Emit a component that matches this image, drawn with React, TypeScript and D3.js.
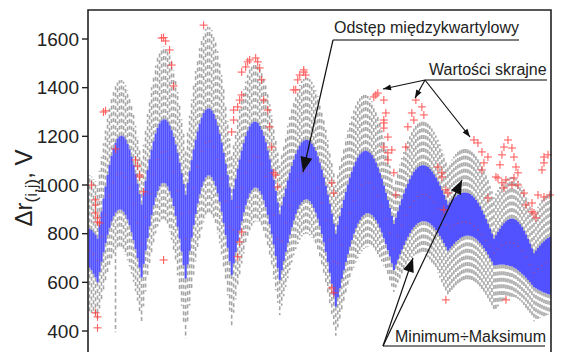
import React from "react";
import * as d3 from "d3";

const yTicks = [400, 600, 800, 1000, 1200, 1400, 1600];

const maxV = [
  1040, 1035, 1025, 1015,
  1000, 1059, 1116, 1172, 1224, 1272, 1314, 1352, 1382, 1406, 1421, 1430, 1431, 1424, 1410, 1388, 1360, 1326, 1288, 1244, 1198, 1149, 1100,
  1165, 1230, 1292, 1350, 1402, 1450, 1490, 1523, 1547, 1564, 1570, 1568, 1557, 1537, 1508, 1472, 1430, 1382, 1328, 1270, 1211, 1150,
  1219, 1286, 1351, 1413, 1469, 1518, 1562, 1597, 1623, 1641, 1650, 1648, 1637, 1617, 1588, 1550, 1504, 1452, 1393, 1329, 1262, 1191, 1120,
  1170, 1221, 1268, 1313, 1356, 1393, 1425, 1453, 1475, 1489, 1498, 1500, 1494, 1483, 1465, 1439, 1409, 1373, 1332, 1287, 1238, 1187, 1134, 1080,
  1122, 1163, 1203, 1243, 1279, 1312, 1343, 1370, 1393, 1411, 1427, 1436, 1441, 1440, 1435, 1424, 1409, 1389, 1365, 1336, 1303, 1266, 1227, 1185, 1141, 1095, 1048, 1000,
  1040, 1080, 1118, 1155, 1191, 1224, 1255, 1282, 1306, 1327, 1344, 1357, 1366, 1370, 1370, 1366, 1357, 1344, 1327, 1306, 1282, 1255, 1224, 1191, 1155, 1118, 1080, 1040, 1000,
  1029, 1057, 1084, 1111, 1136, 1159, 1181, 1200, 1218, 1232, 1244, 1252, 1258, 1261, 1260, 1258, 1252, 1244, 1232, 1219, 1203, 1186, 1167, 1146, 1125, 1103, 1080,
  1092, 1105, 1117, 1127, 1137, 1145, 1150, 1155, 1156, 1156, 1153, 1147, 1139, 1128, 1115, 1100, 1083, 1063, 1043, 1021, 997, 974, 950,
  965, 979, 992, 1004, 1014, 1022, 1028, 1031, 1033, 1030, 1026, 1017, 1007, 994, 979, 962, 943, 923, 902, 880,
  896, 911, 925, 939, 951, 961, 969, 975,
];

const q3V = [
  820, 815, 805, 795,
  780, 836, 892, 944, 994, 1041, 1083, 1119, 1150, 1173, 1191, 1200, 1203, 1199, 1188, 1169, 1147, 1117, 1083, 1046, 1006, 963, 920,
  969, 1017, 1062, 1106, 1145, 1180, 1211, 1235, 1253, 1265, 1270, 1269, 1261, 1245, 1225, 1198, 1167, 1132, 1092, 1049, 1005, 960,
  1009, 1057, 1102, 1147, 1186, 1221, 1252, 1277, 1296, 1308, 1314, 1314, 1306, 1292, 1271, 1244, 1211, 1174, 1133, 1088, 1041, 991, 940,
  984, 1026, 1067, 1105, 1141, 1172, 1201, 1223, 1241, 1253, 1260, 1260, 1255, 1243, 1226, 1203, 1176, 1142, 1106, 1065, 1022, 976, 929, 880,
  916, 951, 985, 1019, 1050, 1078, 1104, 1127, 1146, 1162, 1175, 1182, 1186, 1185, 1180, 1170, 1157, 1140, 1118, 1093, 1064, 1032, 998, 961, 923, 883, 842, 800,
  836, 872, 906, 940, 972, 1002, 1030, 1055, 1077, 1097, 1113, 1126, 1134, 1139, 1141, 1138, 1132, 1123, 1109, 1093, 1073, 1050, 1026, 998, 968, 938, 906, 874, 840,
  866, 892, 917, 942, 965, 987, 1006, 1024, 1040, 1054, 1064, 1073, 1078, 1081, 1081, 1078, 1074, 1066, 1056, 1044, 1031, 1015, 998, 979, 960, 940, 920,
  929, 938, 946, 953, 959, 963, 967, 969, 969, 967, 963, 957, 949, 939, 927, 913, 896, 879, 861, 842, 822, 801, 780,
  794, 808, 821, 833, 843, 851, 857, 861, 862, 860, 856, 849, 839, 827, 813, 797, 779, 760, 740, 720,
  731, 742, 752, 761, 769, 777, 782, 787,
];

const medV = [
  730, 725, 715, 705,
  690, 739, 788, 835, 879, 919, 955, 985, 1011, 1031, 1044, 1050, 1050, 1043, 1031, 1011, 987, 957, 923, 885, 846, 803, 760,
  814, 866, 917, 964, 1007, 1045, 1077, 1104, 1123, 1135, 1140, 1137, 1127, 1110, 1085, 1055, 1017, 976, 931, 882, 832, 780,
  835, 888, 940, 989, 1034, 1073, 1108, 1137, 1158, 1172, 1179, 1179, 1170, 1156, 1134, 1104, 1069, 1028, 983, 932, 880, 826, 770,
  816, 863, 907, 948, 987, 1022, 1051, 1077, 1097, 1110, 1119, 1120, 1115, 1104, 1087, 1063, 1035, 1002, 963, 922, 877, 829, 780, 730,
  769, 808, 844, 880, 914, 945, 973, 997, 1019, 1036, 1049, 1057, 1061, 1060, 1055, 1045, 1029, 1010, 987, 959, 928, 893, 856, 816, 774, 731, 685, 640,
  678, 716, 752, 788, 822, 855, 884, 912, 936, 958, 976, 990, 1001, 1008, 1012, 1011, 1008, 1000, 989, 974, 956, 936, 913, 888, 860, 832, 802, 772, 740,
  764, 788, 811, 833, 854, 874, 892, 908, 923, 935, 945, 953, 958, 961, 961, 959, 955, 949, 940, 930, 918, 904, 889, 873, 856, 838, 820,
  826, 830, 835, 839, 842, 845, 847, 847, 847, 846, 842, 838, 832, 825, 817, 807, 797, 786, 773, 761, 748, 734, 720,
  728, 737, 744, 751, 757, 761, 763, 764, 763, 760, 755, 748, 739, 729, 717, 703, 688, 673, 656, 640,
  648, 655, 663, 669, 675, 680, 685, 688,
];

const q1V = [
  660, 650, 635, 620,
  600, 642, 684, 723, 761, 795, 824, 850, 871, 886, 896, 900, 898, 890, 877, 858, 834, 805, 773, 737, 700, 660, 620,
  676, 731, 782, 831, 876, 916, 948, 975, 995, 1007, 1009, 1006, 994, 974, 947, 913, 873, 828, 779, 726, 671, 615,
  673, 729, 783, 835, 881, 924, 961, 991, 1014, 1031, 1039, 1040, 1032, 1017, 996, 966, 931, 890, 844, 794, 742, 686, 630,
  677, 724, 770, 812, 851, 887, 917, 943, 965, 979, 988, 990, 986, 975, 960, 937, 909, 877, 839, 798, 755, 708, 659, 610,
  649, 688, 725, 761, 795, 826, 854, 880, 901, 918, 930, 938, 942, 940, 934, 922, 906, 886, 861, 832, 799, 764, 725, 683, 639, 594, 547, 500,
  538, 576, 614, 649, 683, 716, 746, 773, 800, 822, 841, 856, 869, 877, 883, 885, 882, 877, 868, 856, 841, 824, 804, 781, 757, 732, 706, 678, 650,
  672, 693, 714, 734, 753, 771, 787, 802, 816, 827, 836, 843, 848, 851, 851, 850, 847, 842, 834, 825, 815, 803, 790, 776, 761, 746, 730,
  739, 749, 758, 767, 774, 780, 786, 789, 792, 792, 791, 789, 784, 779, 771, 762, 752, 740, 728, 714, 699, 685, 670,
  671, 672, 673, 673, 673, 671, 670, 667, 665, 660, 656, 649, 643, 635, 628, 619, 610, 600, 590, 580,
  575, 570, 566, 562, 558, 555, 552, 550,
];

const minV = [
  480, 475, 470, 460,
  450, 492, 532, 571, 608, 641, 670, 695, 714, 395, 737, 740, 737, 727, 712, 691, 666, 635, 602, 563, 524, 482, 440,
  502, 562, 619, 673, 722, 765, 801, 829, 848, 858, 860, 852, 836, 809, 775, 733, 684, 629, 569, 504, 438, 370,
  438, 505, 570, 631, 687, 737, 781, 818, 847, 867, 878, 880, 873, 857, 834, 801, 761, 715, 663, 606, 547, 484, 420,
  475, 530, 582, 632, 677, 719, 756, 788, 814, 833, 845, 851, 848, 840, 825, 803, 775, 742, 704, 662, 615, 567, 516, 465,
  504, 543, 581, 617, 651, 682, 711, 736, 758, 775, 788, 797, 800, 800, 794, 784, 769, 750, 727, 699, 668, 633, 596, 556, 514, 470, 425, 380,
  415, 450, 485, 518, 550, 580, 609, 636, 660, 681, 699, 716, 728, 737, 743, 746, 747, 743, 737, 728, 716, 703, 686, 668, 648, 627, 606, 583, 560,
  579, 598, 616, 633, 649, 665, 679, 690, 700, 709, 715, 718, 720, 720, 716, 711, 703, 694, 682, 669, 653, 637, 619, 600, 580, 561, 540,
  549, 559, 568, 577, 584, 590, 596, 599, 602, 602, 601, 599, 594, 589, 581, 572, 562, 550, 538, 524, 509, 495, 480,
  490, 501, 510, 519, 527, 533, 537, 540, 541, 540, 537, 532, 525, 517, 507, 495, 482, 469, 454, 440,
  445, 449, 454, 458, 461, 464, 467, 469,
];

const outlierIdx = [
  7, 8, 13, 23, 24, 25, 36, 37, 38, 40, 41, 42,
  1, 3, 3, 3, 4, 4, 5, 3, 4, 4, 25, 27, 37,
  57, 79, 80, 83, 84, 85, 78, 76, 86, 76, 75, 74, 72, 87, 89, 72, 71, 90, 91, 92,
  107, 105, 104, 103, 102, 107, 108,
  143, 142, 144, 147, 147, 147, 149, 147, 149, 148, 147, 151, 149,
  163, 166, 161, 167, 159, 162, 158, 174, 176,
  192, 194, 196, 197, 196, 199,
  209, 207, 211, 206, 212, 205, 213, 214,
  227, 229, 227, 226,
  204, 206, 208, 211, 212, 207, 203, 214, 217, 221, 222, 224, 227, 230,
  199, 176, 178, 179, 177, 178, 208, 152, 153,
  93, 94, 76, 75, 74, 121, 122, 121, 122, 218, 221, 223,
];
const outlierV = [
  1300, 1305, 1148, 1103, 1078, 1041, 1604, 1606, 1592, 1555, 1493, 1407,
  1000, 939, 918, 885, 865, 848, 844, 475, 458, 413, 1033, 972, 692,
  1657, 1506, 1514, 1522, 1506, 1481, 1485, 1464, 1432, 1370, 1349, 1321, 1308, 1349, 1308, 1267, 1218, 1239, 1156, 1050,
  1473, 1452, 1432, 1391, 1391, 1464, 1452,
  1370, 1362, 1378, 1349, 1267, 1234, 1197, 1156, 1132, 1296, 1255, 1144, 1103,
  1349, 1321, 1296, 1288, 1239, 1267, 1156, 1074, 1050,
  1185, 1173, 1136, 1091, 1062, 1115,
  1185, 1156, 1152, 1124, 1115, 1083, 1074, 1050,
  1115, 1124, 1091, 1062,
  1029, 1009, 1021, 1000, 1029, 988, 1033, 1000, 967, 926, 885, 959, 951, 959,
  947, 1033, 980, 967, 898, 528, 528, 1050, 959,
  1041, 992, 807, 766, 705, 1009, 967, 577, 557, 918, 890, 865,
];

const FONT = "'Liberation Sans', Arial, Helvetica, sans-serif";

function head(x1: number, y1: number, x2: number, y2: number, len: number, hw: number) {
  const dx = x2 - x1, dy = y2 - y1, d = Math.hypot(dx, dy);
  const ux = dx / d, uy = dy / d;
  const bx = x2 - ux * len, by = y2 - uy * len;
  return `${x2},${y2} ${bx - uy * hw},${by + ux * hw} ${bx + uy * hw},${by - ux * hw}`;
}

function Arrow({ x1, y1, x2, y2, len, hw }: { x1: number; y1: number; x2: number; y2: number; len: number; hw: number }) {
  return (
    <g>
      <line x1={x1} y1={y1} x2={x2} y2={y2} stroke="#111" strokeWidth={1.2} />
      <polygon points={head(x1, y1, x2, y2, len, hw)} fill="#111" />
    </g>
  );
}

export default function App() {
  const W = 582, H = 352;
  const n = Math.min(maxV.length, q3V.length, medV.length, q1V.length, minV.length);
  const idx = d3.range(n);
  const x = d3.scaleBand<number>().domain(idx).range([88.5, 551]).paddingInner(0).paddingOuter(0);
  const bw = x.bandwidth();
  const y = d3.scaleLinear().domain([400, 1600]).range([331, 39]);

  return (
    <svg width={W} height={H} style={{ position: "absolute", left: 0, top: 0, background: "#fff" }} fontFamily={FONT}>
      <rect width={W} height={H} fill="#fff" />
      {/* whiskers */}
      <g stroke="#a6a6a6" strokeWidth={1.6} strokeDasharray="4 2.6">
        {idx.map((i) => (
          <g key={"w" + i}>
            <line x1={x(i)! + bw / 2} x2={x(i)! + bw / 2} y1={y(q3V[i])} y2={y(maxV[i])} />
            <line x1={x(i)! + bw / 2} x2={x(i)! + bw / 2} y1={y(q1V[i])} y2={y(minV[i])} />
          </g>
        ))}
      </g>
      {/* boxes */}
      <g fill="#5252ff">
        {idx.map((i) => (
          <rect key={"b" + i} x={x(i)!} width={bw + 0.1} y={y(q3V[i])} height={Math.max(0.5, y(q1V[i]) - y(q3V[i]))} />
        ))}
      </g>
      {/* medians */}
      <g stroke="#e0405a" strokeWidth={1} opacity={0.5}>
        {idx.map((i) => (i % 2 === 0 ? (
          <line key={"m" + i} x1={x(i)!} x2={x(i)! + bw} y1={y(medV[i])} y2={y(medV[i])} />
        ) : null))}
      </g>
      {/* outliers */}
      <g stroke="#ff3a3a" strokeWidth={1.1} opacity={0.8}>
        {outlierIdx.map((oi, k) => {
          const cx = x(oi)! + bw / 2;
          const cy = y(outlierV[k]);
          return (
            <g key={"o" + k}>
              <line x1={cx - 4} x2={cx + 4} y1={cy} y2={cy} />
              <line x1={cx} x2={cx} y1={cy - 4} y2={cy + 4} />
            </g>
          );
        })}
      </g>
      {/* frame */}
      <path d="M88,360 L88,10 L551,10 L551,360" fill="none" stroke="#222" strokeWidth={1.6} />
      {/* y axis ticks */}
      {yTicks.map((t) => (
        <g key={"t" + t}>
          <line x1={82} x2={88} y1={y(t)} y2={y(t)} stroke="#222" strokeWidth={1.4} />
          <text x={79} y={y(t) + 6.8} textAnchor="end" fontSize={19} fill="#222">{t}</text>
        </g>
      ))}
      {/* y label */}
      <text transform="translate(32,188) rotate(-90)" textAnchor="middle" fontSize={24} fill="#222">
        Δr<tspan fontSize={17} dy={5}>(i,j)</tspan><tspan dy={-5}>, V</tspan>
      </text>
      {/* annotations */}
      <g fontSize={16} fill="#222">
        <text x={334} y={33}>Odstęp międzykwartylowy</text>
        <text x={429} y={75}>Wartości skrajne</text>
        <text x={395} y={342}>Minimum÷Maksimum</text>
      </g>
      <g stroke="#555" strokeWidth={1.3}>
        <line x1={333} x2={519} y1={40} y2={40} />
        <line x1={425} x2={547} y1={80} y2={80} />
        <line x1={383} x2={545} y1={346} y2={346} />
      </g>
      <Arrow x1={333} y1={40} x2={303} y2={172} len={15} hw={6} />
      <Arrow x1={425} y1={80} x2={383} y2={89} len={8} hw={3} />
      <Arrow x1={425} y1={80} x2={415} y2={98} len={8} hw={3} />
      <Arrow x1={425} y1={80} x2={470} y2={137} len={8} hw={3} />
      <Arrow x1={383} y1={346} x2={413} y2={258} len={14} hw={5.5} />
      <Arrow x1={383} y1={346} x2={462} y2={180} len={14} hw={5.5} />
    </svg>
  );
}
